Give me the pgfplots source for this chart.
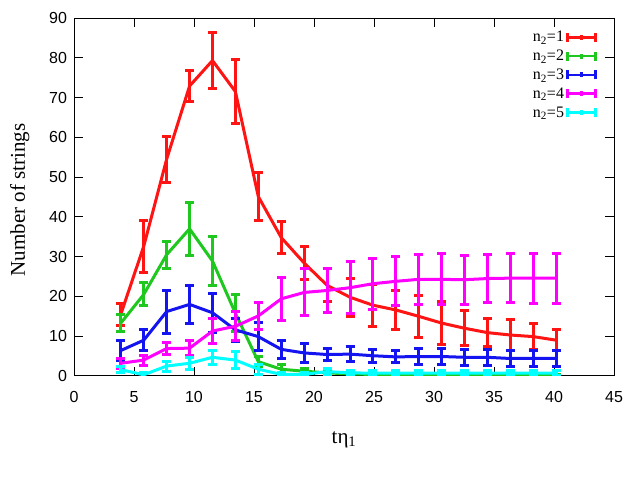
\documentclass[border=0pt]{standalone}
\usepackage{fontspec}
\setmainfont{Liberation Serif}
\newfontfamily\sansf{Liberation Sans}
\usepackage{pgfplots}
\pgfplotsset{compat=1.18}
\usepackage{pgfplotstable}

\definecolor{cred}{RGB}{255,20,20}
\definecolor{cgreen}{RGB}{30,200,30}
\definecolor{cblue}{RGB}{20,20,240}
\definecolor{cmag}{RGB}{255,0,255}
\definecolor{ccyan}{RGB}{0,255,255}

\pgfplotstableread{
x y e
3.90 15.5 2.8
5.81 32.6 6.5
7.72 54.5 5.8
9.63 72.9 3.9
11.54 79.3 7.0
13.45 71.5 8.1
15.36 45.1 6.0
17.27 34.8 4.0
19.18 28.4 4.2
21.09 22.8 4.1
23.00 19.8 4.8
24.91 17.8 5.3
26.82 16.6 5.0
28.73 15.0 5.3
30.64 13.3 5.5
32.55 12.0 4.4
34.46 10.9 3.6
36.37 10.3 3.8
38.28 9.9 3.2
40.19 9.0 2.7
}\tred

\pgfplotstableread{
x y e
3.90 13.3 2.2
5.81 20.5 2.9
7.72 30.5 3.4
9.63 37.0 6.6
11.54 28.9 6.1
13.45 15.8 4.7
15.36 3.6 1.2
17.27 1.7 1.2
19.18 1.2 0.8
21.09 0.8 0.6
23.00 0.5 0.5
24.91 0.4 0.4
26.82 0.3 0.4
28.73 0.3 0.4
30.64 0.2 0.3
32.55 0.2 0.3
34.46 0.2 0.3
36.37 0.2 0.3
38.28 0.15 0.3
40.19 0.1 0.3
}\tgreen

\pgfplotstableread{
x y e
3.90 6.4 2.6
5.81 9.0 2.6
7.72 16.2 5.4
9.63 18.0 4.7
11.54 15.9 4.9
13.45 11.6 2.9
15.36 9.9 3.5
17.27 6.7 2.2
19.18 5.8 2.3
21.09 5.4 1.5
23.00 5.5 1.8
24.91 5.1 1.6
26.82 4.8 1.5
28.73 4.9 1.9
30.64 4.9 1.9
32.55 4.7 2.0
34.46 4.7 2.0
36.37 4.4 1.9
38.28 4.4 1.9
40.19 4.4 1.9
}\tblue

\pgfplotstableread{
x y e
3.90 3.2 1.25
5.81 4.0 1.25
7.72 6.9 1.45
9.63 7.0 1.9
11.54 11.3 3.1
13.45 12.5 3.6
15.36 15.1 3.3
17.27 19.4 5.4
19.18 21.0 5.9
21.09 21.5 5.45
23.00 22.2 6.6
24.91 23.2 6.4
26.82 23.8 6.2
28.73 24.3 6.3
30.64 24.3 6.4
32.55 24.2 6.2
34.46 24.5 6.1
36.37 24.6 6.2
38.28 24.6 6.3
40.19 24.6 6.3
}\tmag

\pgfplotstableread{
x y e
3.90 1.6 0.8
5.81 0.3 0.6
7.72 2.5 1.25
9.63 3.2 1.5
11.54 4.7 1.7
13.45 4.0 2.2
15.36 1.7 1.2
17.27 0.4 0.5
19.18 0.4 0.5
21.09 1.1 0.8
23.00 0.8 0.7
24.91 0.7 0.7
26.82 0.7 0.7
28.73 0.7 0.7
30.64 0.7 0.7
32.55 0.7 0.7
34.46 0.7 0.7
36.37 0.7 0.7
38.28 0.7 0.7
40.19 0.7 0.7
}\tcyan

\pgfplotsset{
  errstyle/.style={
    line width=3bp, line join=round,
    error bars/.cd, y dir=both, y explicit,
    error mark=-,
    error bar style={line width=3bp},
    error mark options={rotate=90, line width=3bp, mark size=4.5bp},
    /pgfplots/.cd
  }
}

\begin{document}
\begin{tikzpicture}
\useasboundingbox (0,0) rectangle (640bp,480bp);
\begin{axis}[
  at={(74bp,104bp)}, anchor=south west,
  scale only axis, width=540bp, height=358bp,
  xmin=0, xmax=45, ymin=0, ymax=90,
  xtick={0,5,...,45}, ytick={0,10,...,90},
  tick align=inside, major tick length=9bp,
  axis line style={line width=1bp},
  every tick/.style={black, line width=1bp},
  /pgf/number format/assume math mode=true,
  ticklabel style={font=\sansf\fontsize{16bp}{18bp}\selectfont},
  xticklabel shift=11.5bp,
  yticklabel shift=3.5bp,
  xlabel={tη\textsubscript{1}},
  ylabel={Number of strings},
  label style={font=\fontsize{21bp}{24bp}\selectfont},
  xlabel style={at={(axis description cs:0.5,0)}, anchor=base, yshift=-67bp},
  ylabel style={at={(axis description cs:0,0.4916)}, anchor=base, yshift=49bp},
  legend image code/.code={
    \draw[#1] (0bp,0bp) -- (28bp,0bp);
    \draw[#1] (0bp,-4.5bp) -- (0bp,4.5bp);
    \draw[#1] (28bp,-4.5bp) -- (28bp,4.5bp);
    \draw[#1] (14bp,-2.5bp) -- (14bp,2.5bp);
  },
  legend style={draw=none, fill=none, at={(axis description cs:1,1)}, anchor=north east,
    xshift=-14bp, yshift=-9bp, font=\fontsize{16bp}{18bp}\selectfont,
    row sep=2.8bp, nodes={inner sep=2bp}},
  legend cell align=right,
  legend plot pos=right,
]
\addplot[cred, forget plot, errstyle] table[x=x, y=y, y error=e]{\tred};
\addplot[cgreen, forget plot, errstyle] table[x=x, y=y, y error=e]{\tgreen};
\addplot[cblue, forget plot, errstyle] table[x=x, y=y, y error=e]{\tblue};
\addplot[cmag, forget plot, errstyle] table[x=x, y=y, y error=e]{\tmag};
\addplot[ccyan, forget plot, errstyle] table[x=x, y=y, y error=e]{\tcyan};
\addlegendimage{cred, line width=2.8bp}
\addlegendimage{cgreen, line width=2.8bp}
\addlegendimage{cblue, line width=2.8bp}
\addlegendimage{cmag, line width=2.8bp}
\addlegendimage{ccyan, line width=2.8bp}
\legend{n\textsubscript{2}=1, n\textsubscript{2}=2, n\textsubscript{2}=3, n\textsubscript{2}=4, n\textsubscript{2}=5}
\end{axis}
\end{tikzpicture}
\end{document}
